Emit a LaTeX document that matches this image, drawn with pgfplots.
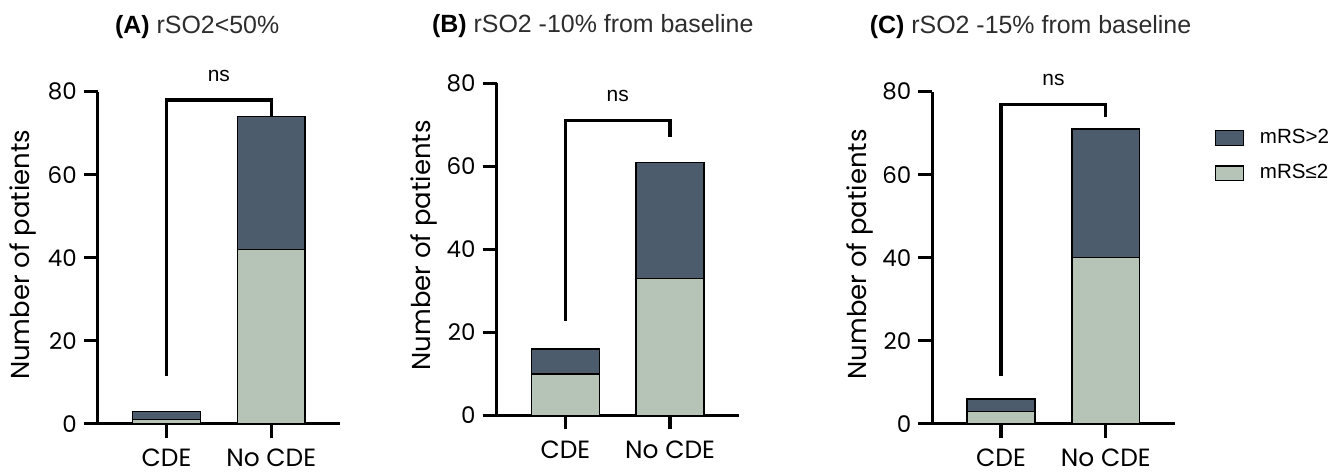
\documentclass[border=0pt]{standalone}
\usepackage{pgfplots}
\pgfplotsset{compat=1.18}
\usepackage{fontspec}
\setmainfont{Liberation Sans}
\newfontfamily\geo{Poppins}

\definecolor{darkbar}{RGB}{76,92,108}
\definecolor{lightbar}{RGB}{181,196,183}
\definecolor{titlegray}{RGB}{45,45,45}

\pgfplotsset{
  panel/.style={
    scale only axis, width=121.5pt, height=166.5pt,
    anchor=south west,
    axis x line=bottom, axis y line=left,
    axis line style={-, line width=1.6pt},
    tick align=outside, major tick length=7pt,
    tick style={line width=1.6pt, black},
    xmin=-0.657, xmax=1.657, ymin=0, ymax=80,
    xtick={0,1}, xticklabels={CDE,No CDE},
    ytick={0,20,40,60,80},
    /pgf/number format/assume math mode=true,
    yticklabel style={font=\geo\fontsize{11.5}{13}\selectfont},
    xticklabel style={font=\geo\fontsize{12.5}{14}\selectfont, inner ysep=0pt, yshift=-5.5pt},
    ybar stacked, bar width=34pt,
    clip=false,
  },
  lowbar/.style={fill=lightbar, draw=black, line width=0.7pt},
  highbar/.style={fill=darkbar, draw=black, line width=0.7pt},
}
\tikzset{bracket/.style={line width=1.6pt, black}}

\begin{document}
\begin{tikzpicture}
\path (0,0) rectangle (666.5pt,236.5pt);

% Panel A
\begin{axis}[panel, at={(49pt,24pt)}]
  \addplot[lowbar] coordinates {(0,1) (1,42)};
  \addplot[highbar] coordinates {(0,2) (1,32)};
  \draw[bracket] (axis cs:0,11.6) -- (axis cs:0,78) -- (axis cs:1,78) -- (axis cs:1,74);
  \node[font=\fontsize{10.5}{12}\selectfont] at (axis cs:0.5,83.9) {ns};
\end{axis}

% Panel B
\begin{axis}[panel, at={(249pt,28.15pt)}]
  \addplot[lowbar] coordinates {(0,10) (1,33)};
  \addplot[highbar] coordinates {(0,6) (1,28)};
  \draw[bracket] (axis cs:0,22.8) -- (axis cs:0,71) -- (axis cs:1,71) -- (axis cs:1,67);
  \node[font=\fontsize{10.5}{12}\selectfont] at (axis cs:0.5,76.9) {ns};
\end{axis}

% Panel C
\begin{axis}[panel, at={(467.5pt,24pt)},
    reverse legend,
    legend style={at={(rel axis cs:1.164,0.9)}, anchor=north west,
      draw=none, fill=none, inner sep=0pt, row sep=5pt,
      font=\fontsize{10.3}{12}\selectfont,
      /tikz/every odd column/.append style={column sep=6pt}},
    legend cell align=left,
    legend image code/.code={\draw[#1] (0pt,-3.75pt) rectangle (14pt,3.75pt);},
  ]
  \addplot[lowbar] coordinates {(0,3) (1,40)};
  \addlegendentry{mRS≤2}
  \addplot[highbar] coordinates {(0,3) (1,31)};
  \addlegendentry{mRS>2}
  \draw[bracket] (axis cs:0,11.6) -- (axis cs:0,77) -- (axis cs:1,77) -- (axis cs:1,74);
  \node[font=\fontsize{10.5}{12}\selectfont] at (axis cs:0.5,82.9) {ns};
\end{axis}

% y labels
\node[rotate=90, font=\geo\fontsize{13}{15}\selectfont] at (11.5pt,108.75pt) {Number of patients};
\node[rotate=90, font=\geo\fontsize{13}{15}\selectfont] at (212.5pt,113.5pt) {Number of patients};
\node[rotate=90, font=\geo\fontsize{13}{15}\selectfont] at (431pt,109pt) {Number of patients};

% titles
\node[anchor=west, inner sep=0pt, font=\fontsize{12.5}{15}\selectfont] at (57.5pt,223pt) {\textbf{(A)} \textcolor{titlegray}{rSO2<50\%}};
\node[anchor=west, inner sep=0pt, font=\fontsize{12.5}{15}\selectfont] at (216.5pt,223.5pt) {\textbf{(B)} \textcolor{titlegray}{rSO2 -10\% from baseline}};
\node[anchor=west, inner sep=0pt, font=\fontsize{12.5}{15}\selectfont] at (436pt,223pt) {\textbf{(C)} \textcolor{titlegray}{rSO2 -15\% from baseline}};
\end{tikzpicture}
\end{document}
